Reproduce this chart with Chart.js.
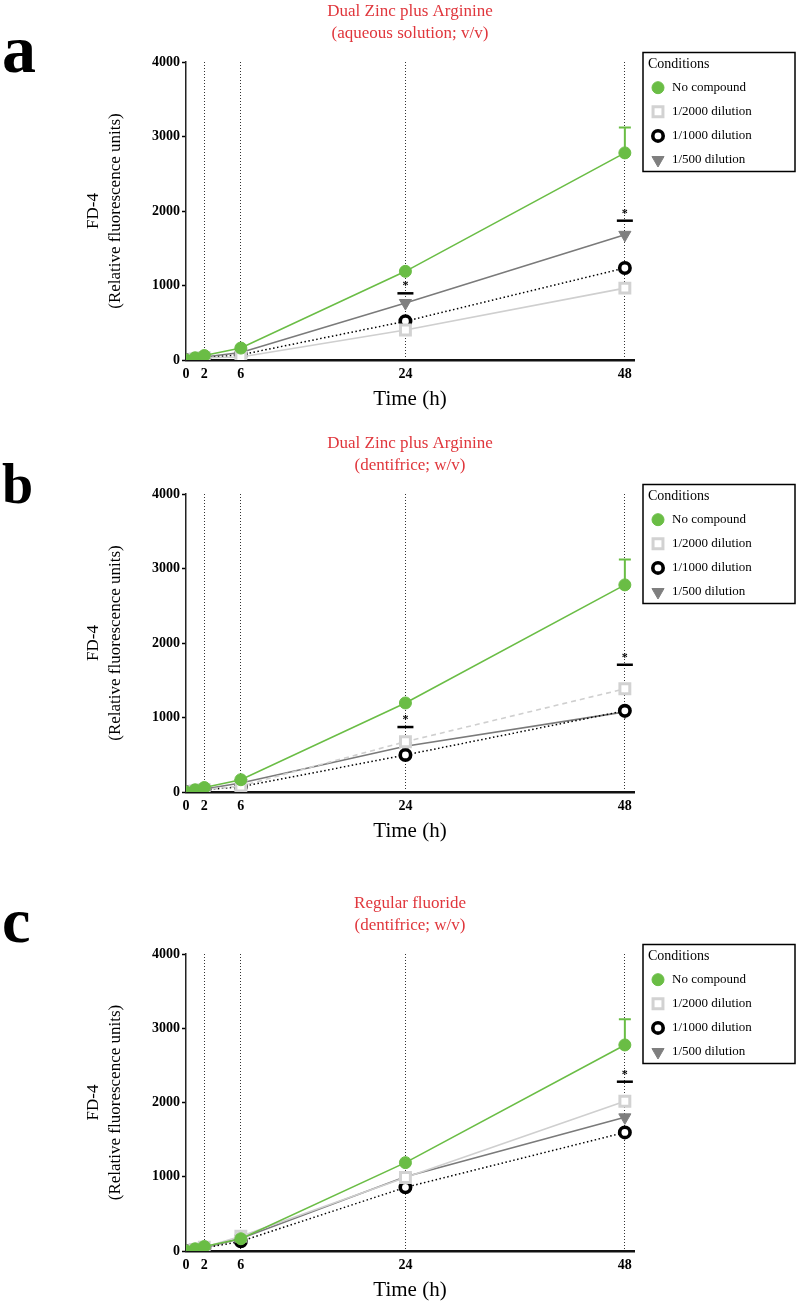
<!DOCTYPE html>
<html><head><meta charset="utf-8">
<script src="https://cdn.jsdelivr.net/npm/chart.js@4.4.1/dist/chart.umd.min.js"></script>
<style>
html,body{margin:0;padding:0;background:#fff;width:800px;height:1303px;overflow:hidden;}
.panel{position:absolute;left:0;width:800px;height:412px;}
canvas{display:block;}
</style></head><body>
<div class="panel" style="top:0px"><canvas id="ca" width="800" height="412"></canvas></div>
<div class="panel" style="top:432px"><canvas id="cb" width="800" height="412"></canvas></div>
<div class="panel" style="top:892px;height:411px"><canvas id="cc" width="800" height="411"></canvas></div>
<script>
// ---- data ----
const times = [0, 1, 2, 6, 24, 48];
const xTickValues = [0, 2, 6, 24, 48];
const seriesLabels = ['No compound', '1/2000 dilution', '1/1000 dilution', '1/500 dilution'];
const panelLetters = ['a', 'b', 'c'];
const titleA = ['Dual Zinc plus Arginine', '(aqueous solution; v/v)'];
const titleB = ['Dual Zinc plus Arginine', '(dentifrice; w/v)'];
const titleC = ['Regular fluoride', '(dentifrice; w/v)'];
const yAxisTitle = ['FD-4', '(Relative fluorescence units)'];
const xAxisTitle = 'Time (h)';

const aNoCompound = [0, 30, 60, 160, 1190, 2780];
const aDil2000 = [0, 15, 30, 40, 403, 965];
const aDil1000 = [0, 15, 30, 70, 520, 1235];
const aDil500 = [0, 20, 40, 100, 765, 1680];

const bNoCompound = [0, 30, 60, 165, 1195, 2780];
const bDil2000 = [0, 15, 30, 80, 675, 1385];
const bDil1000 = [0, 15, 30, 70, 497, 1090];
const bDil500 = [0, 20, 40, 120, 615, 1075];

const cNoCompound = [0, 30, 60, 165, 1190, 2775];
const cDil2000 = [0, 20, 50, 200, 990, 2017];
const cDil1000 = [0, 15, 40, 130, 857, 1597];
const cDil500 = [0, 20, 45, 170, 1000, 1800];

const errTime = 48;
const aErrTop = 3120, bErrTop = 3120, cErrTop = 3120;

const aSigTimes = [24, 48], aSigValues = [895, 1870];
const bSigTimes = [24, 48], bSigValues = [872, 1708];
const cSigTimes = [48], cSigValues = [2280];

// ---- styles ----
const FONT = 'Liberation Serif';
const GREEN = '#6abd45';

function pts(vals){ return times.map((t, i) => ({x: t, y: vals[i]})); }

function drawMarker(ctx, o, x, y){
  if (Chart.helpers && Chart.helpers.drawPoint) {
    Chart.helpers.drawPoint(ctx, o, x, y);
  } else {
    ctx.beginPath(); ctx.arc(x, y, o.radius, 0, Math.PI*2); ctx.fill(); if (o.borderWidth) ctx.stroke();
  }
}

const panelPlugin = {
  id: 'panelExtras',
  beforeDatasetsDraw(chart, args, opts){
    const ctx = chart.ctx, xs = chart.scales.x, ys = chart.scales.y;
    const i = times.indexOf(opts.errTime);
    const px = xs.getPixelForValue(opts.errTime);
    const y0 = ys.getPixelForValue(opts.errBase[i]);
    const y1 = ys.getPixelForValue(opts.errTop);
    ctx.save();
    ctx.strokeStyle = GREEN; ctx.lineWidth = 2;
    ctx.beginPath(); ctx.moveTo(px, y0); ctx.lineTo(px, y1);
    ctx.moveTo(px - 6, y1); ctx.lineTo(px + 6, y1); ctx.stroke();
    ctx.restore();
  },
  afterDraw(chart, args, opts){
    const ctx = chart.ctx, xs = chart.scales.x, ys = chart.scales.y, ca = chart.chartArea;
    ctx.save();
    opts.sigTimes.forEach((t, k) => {
      const px = xs.getPixelForValue(t), py = ys.getPixelForValue(opts.sigValues[k]);
      ctx.strokeStyle = '#000'; ctx.lineWidth = 2.5;
      ctx.beginPath(); ctx.moveTo(px - 8, py); ctx.lineTo(px + 8, py); ctx.stroke();
      ctx.fillStyle = '#000'; ctx.font = 'bold 12px "' + FONT + '"';
      ctx.textAlign = 'center'; ctx.textBaseline = 'middle';
      ctx.fillText('*', px, py - 7);
    });
    ctx.fillStyle = '#000'; ctx.textAlign = 'left'; ctx.textBaseline = 'alphabetic';
    ctx.font = 'bold ' + opts.letterSize + 'px "' + FONT + '"';
    ctx.fillText(opts.letter, 2, opts.letterBase);
    const x0 = ca.right + 9, top = ca.top;
    ctx.strokeStyle = '#000'; ctx.lineWidth = 1.5;
    ctx.strokeRect(x0, top - 9.5, 152, 119);
    ctx.fillStyle = '#000'; ctx.font = '14px "' + FONT + '"'; ctx.textBaseline = 'middle';
    ctx.fillText('Conditions', x0 + 5, top + 2.5);
    chart.data.datasets.forEach((ds, j) => {
      const yy = top + 25.7 + j * 24.1;
      ctx.save();
      ctx.fillStyle = ds.pointBackgroundColor; ctx.strokeStyle = ds.pointBorderColor; ctx.lineWidth = ds.pointBorderWidth;
      drawMarker(ctx, {pointStyle: ds.pointStyle, rotation: ds.pointRotation || 0, radius: ds.pointRadius, borderWidth: ds.pointBorderWidth}, x0 + 15, yy);
      ctx.restore();
      ctx.fillStyle = '#000'; ctx.font = '13px "' + FONT + '"';
      ctx.fillText(ds.label, x0 + 29, yy);
    });
    ctx.restore();
  }
};

function makeChart(id, letter, letterSize, letterBase, title, noC, d2000, d1000, d500, dashed2000, errTop, sigT, sigV){
  const datasets = [
    {label: seriesLabels[0], data: pts(noC), borderColor: GREEN, borderWidth: 1.6,
     pointStyle: 'circle', pointRadius: 6, pointBackgroundColor: GREEN, pointBorderColor: GREEN, pointBorderWidth: 1},
    {label: seriesLabels[1], data: pts(d2000), borderColor: '#cfcfcf', borderWidth: 1.6, borderDash: dashed2000 ? [5, 4] : [],
     pointStyle: 'rect', pointRadius: 7, pointBackgroundColor: '#ffffff', pointBorderColor: '#d2d2d2', pointBorderWidth: 3},
    {label: seriesLabels[2], data: pts(d1000), borderColor: '#000000', borderWidth: 1.5, borderDash: [1.5, 2.5],
     pointStyle: 'circle', pointRadius: 5.2, pointBackgroundColor: '#ffffff', pointBorderColor: '#000000', pointBorderWidth: 3.6},
    {label: seriesLabels[3], data: pts(d500), borderColor: '#7a7a7a', borderWidth: 1.6,
     pointStyle: 'triangle', pointRotation: 180, pointRadius: 7, pointBackgroundColor: '#7f7f7f', pointBorderColor: '#7f7f7f', pointBorderWidth: 1}
  ];
  return new Chart(document.getElementById(id), {
    type: 'line',
    data: {datasets},
    plugins: [panelPlugin],
    options: {
      responsive: false, animation: false, devicePixelRatio: 1,
      layout: {padding: {top: 0, left: 0, right: 166, bottom: 0}},
      elements: {line: {tension: 0, fill: false}},
      plugins: {
        legend: {display: false},
        tooltip: {enabled: false},
        title: {display: true, fullSize: false, text: title, color: '#e0363c',
                font: {family: FONT, size: 17, weight: 'normal', lineHeight: 1.3}, padding: {top: 0, bottom: 17.8}},
        panelExtras: {letter, letterSize, letterBase, errTime, errTop, errBase: noC, sigTimes: sigT, sigValues: sigV}
      },
      scales: {
        x: {
          type: 'linear', min: 0, max: 49,
          afterBuildTicks(s){ s.ticks = xTickValues.map(v => ({value: v})); },
          afterFit(s){ s.height = 52; },
          ticks: {autoSkip: false, maxRotation: 0, color: '#000', padding: 6,
                  font: {family: FONT, size: 14, weight: 'bold'}, callback: v => String(v)},
          grid: {drawTicks: false, lineWidth: 1,
                 color: c => (c.tick && c.tick.value === 0) ? 'rgba(0,0,0,0)' : '#333'},
          border: {color: '#111', width: 2.5, dash: [1, 2]},
          title: {display: true, text: xAxisTitle, color: '#000',
                  font: {family: FONT, size: 21, lineHeight: 1.2}, padding: {top: 0, bottom: 0}}
        },
        y: {
          min: 0, max: 4000,
          afterFit(s){ s.width = 186; },
          ticks: {stepSize: 1000, color: '#000', padding: 2, font: {family: FONT, size: 14, weight: 'bold'},
                  callback: v => String(v)},
          grid: {drawOnChartArea: false, drawTicks: true, tickLength: 4, tickColor: '#000', tickWidth: 1.5},
          border: {color: '#222', width: 1.5},
          title: {display: true, text: yAxisTitle, color: '#000',
                  font: {family: FONT, size: 17, lineHeight: 1.3}, padding: {top: 82, bottom: 0}}
        }
      }
    }
  });
}

makeChart('ca', panelLetters[0], 68, 72, titleA, aNoCompound, aDil2000, aDil1000, aDil500, false, aErrTop, aSigTimes, aSigValues);
makeChart('cb', panelLetters[1], 56, 71, titleB, bNoCompound, bDil2000, bDil1000, bDil500, true, bErrTop, bSigTimes, bSigValues);
makeChart('cc', panelLetters[2], 64, 50, titleC, cNoCompound, cDil2000, cDil1000, cDil500, false, cErrTop, cSigTimes, cSigValues);
</script>
</body></html>
